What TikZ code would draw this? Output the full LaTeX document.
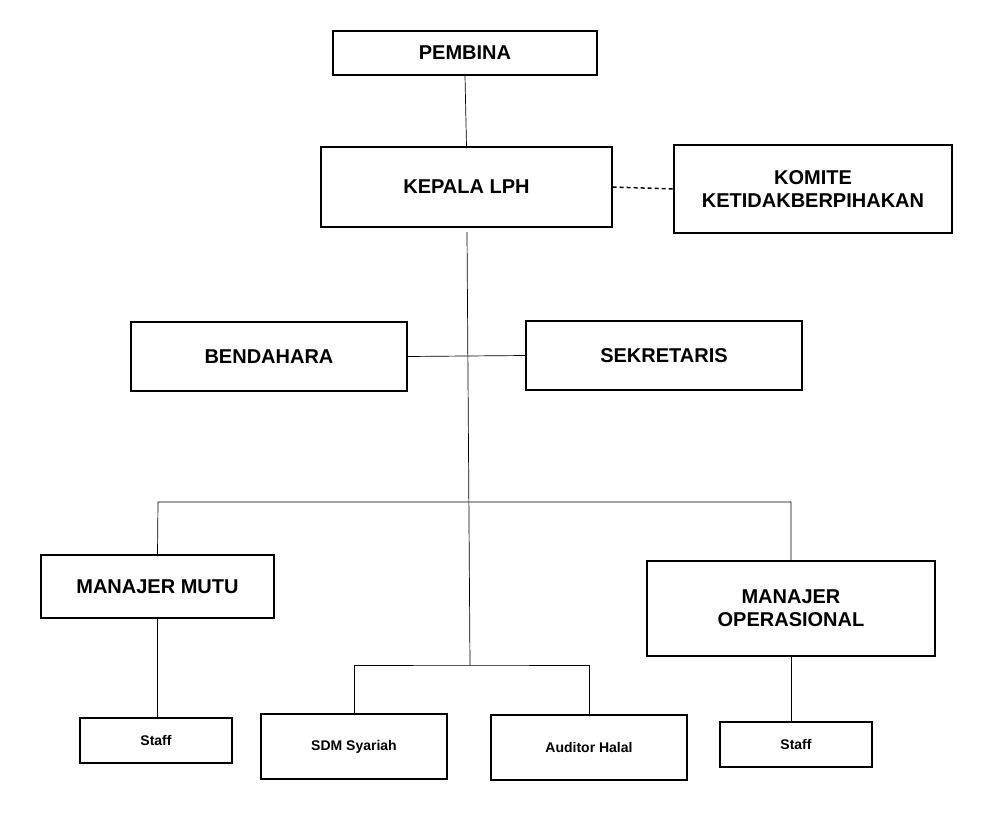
\documentclass[tikz,border=0pt]{standalone}
\usepackage{fontspec}
\setmainfont{Liberation Sans}
\begin{document}
\begin{tikzpicture}[x=1pt,y=-1pt,
  bx/.style={draw,line width=1.3pt,font=\bfseries\fontsize{20}{23}\selectfont,align=center,inner sep=0},
  sbx/.style={draw,line width=1.3pt,font=\bfseries\fontsize{14}{17}\selectfont,inner sep=0},
  ln/.style={line width=0.7pt}]
\useasboundingbox (0,0) rectangle (1002,813);
\newcommand\mybox[6]{\node[#1,minimum width=#4-#2,minimum height=#5-#3] (#6) at ({(#2+#4)/2},{(#3+#5)/2})}
\mybox{bx}{333}{31}{597}{75}{pem}{PEMBINA};
\mybox{bx}{321}{147}{612}{227}{kep}{KEPALA LPH};
\mybox{bx}{674}{145}{952}{233}{kom}{KOMITE\\KETIDAKBERPIHAKAN};
\mybox{bx}{131}{322}{407}{391}{ben}{BENDAHARA};
\mybox{bx}{526}{321}{802}{390}{sek}{SEKRETARIS};
\mybox{bx}{41}{555}{274}{618}{mm}{MANAJER MUTU};
\mybox{bx}{647}{561}{935}{656}{mo}{MANAJER\\OPERASIONAL};
\mybox{sbx}{80}{718}{232}{763}{s1}{Staff};
\mybox{sbx}{261}{714}{447}{779}{sdm}{SDM Syariah};
\mybox{sbx}{491}{715}{687}{780}{aud}{Auditor Halal};
\mybox{sbx}{720}{722}{872}{767}{s2}{Staff};
\draw[ln] (pem.south) -- (kep.north);
\draw[line width=1.5pt,dash pattern=on 4pt off 3pt] (kep.east) -- (kom.west);
\coordinate (top) at (467,232);
\coordinate (bot) at (470,665);
\draw[ln] (top) -- (bot);
\draw[ln] (ben.east) -- (sek.west);
\draw[ln] (mm.north) -- (158,502) -| (mo.north);
\draw[ln] (sdm.north) |- (bot) -| (aud.north);
\draw[ln] (mm.south) -- (s1.north-|mm.south);
\draw[ln] (mo.south) -- (s2.north-|mo.south);
\end{tikzpicture}
\end{document}
